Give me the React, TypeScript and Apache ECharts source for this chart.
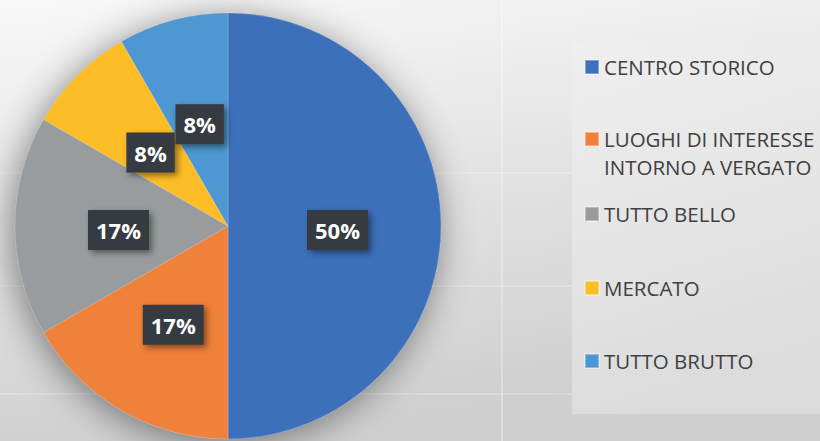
import React, { useEffect, useRef } from "react";
import * as echarts from "echarts";

const categories = [
  "CENTRO STORICO",
  "LUOGHI DI INTERESSE INTORNO A VERGATO",
  "TUTTO BELLO",
  "MERCATO",
  "TUTTO BRUTTO",
];
const legendLines = [
  "CENTRO STORICO",
  " \nLUOGHI DI INTERESSE\nINTORNO A VERGATO",
  "TUTTO BELLO",
  "MERCATO",
  "TUTTO BRUTTO",
];
const values = [6, 2, 2, 1, 1];
const colors = ["#3C70BB", "#F0813A", "#999C9E", "#FDBD26", "#4E97D2"];
const legendCenters = [68, 140, 215, 289, 362];

export default function App() {
  const ref = useRef<HTMLDivElement>(null);
  useEffect(() => {
    document.body.style.margin = "0";
    const chart = echarts.init(ref.current!, null, { renderer: "svg" });
    const legends = categories.map((name, i) => {
      const lines = legendLines[i].split("\n").length;
      const h = lines * 28;
      return {
        orient: "vertical",
        left: 584,
        top: legendCenters[i] - h / 2 - 1,
        padding: 0,
        itemWidth: 14,
        itemHeight: 14,
        icon: "rect",
        data: [name],
        selectedMode: false,
        formatter: () => legendLines[i],
        textStyle: {
          fontFamily: "Open Sans",
          fontSize: 20.5,
          color: "#404040",
          lineHeight: 28,
        },
      };
    });
    const hLines = [173, 286, 394].map((y) => ({
      type: "line",
      z: -9,
      shape: { x1: 0, y1: y, x2: 572, y2: y },
      style: { stroke: "rgba(255,255,255,0.45)", lineWidth: 1 },
    }));
    const vLines = [502].map((x) => ({
      type: "line",
      z: -9,
      shape: { x1: x, y1: 0, x2: x, y2: 441 },
      style: { stroke: "rgba(255,255,255,0.55)", lineWidth: 1 },
    }));
    chart.setOption({
      animation: false,
      color: colors,
      graphic: [
        {
          type: "rect",
          z: -10,
          shape: { x: 0, y: 0, width: 820, height: 441 },
          style: {
            fill: new echarts.graphic.LinearGradient(0, 0, 0.25, 1, [
              { offset: 0, color: "#F8F8F8" },
              { offset: 1, color: "#CFCFCF" },
            ]),
          },
        },
        ...hLines,
        ...vLines,
        {
          type: "rect",
          z: -8,
          shape: { x: 572, y: 43, width: 248, height: 371 },
          style: {
            fill: new echarts.graphic.LinearGradient(0, 0, 0.2, 1, [
              { offset: 0, color: "#EEEFEE" },
              { offset: 1, color: "#DCDCDC" },
            ]),
          },
        },
      ],
      legend: legends,
      series: [
        {
          type: "pie",
          silent: true,
          z: 1,
          center: [228, 226],
          radius: 213,
          label: { show: false },
          labelLine: { show: false },
          itemStyle: {
            color: "#888",
            shadowBlur: 36,
            shadowColor: "rgba(0,0,0,0.45)",
            shadowOffsetX: -3,
            shadowOffsetY: 5,
          },
          data: [{ value: 1, name: "__bg" }],
        },
        {
          type: "pie",
          z: 2,
          center: [228, 226],
          radius: 213,
          startAngle: 90,
          clockwise: true,
          percentPrecision: 0,
          itemStyle: { borderWidth: 0.6, borderColor: "rgba(255,255,255,0.35)" },
          label: {
            show: true,
            position: "inside",
            formatter: "{d}%",
            offset: [0, 4],
            fontFamily: "Open Sans",
            fontWeight: "bold",
            fontSize: 22,
            lineHeight: 22,
            color: "#FFFFFF",
            backgroundColor: "#353A3F",
            padding: [9, 8, 9, 8],
            shadowBlur: 6,
            shadowOffsetX: 3,
            shadowOffsetY: 3,
            shadowColor: "rgba(0,0,0,0.45)",
          },
          labelLine: { show: false },
          data: categories.map((name, i) => ({ name, value: values[i] })),
        },
      ],
    });
    return () => chart.dispose();
  }, []);
  return <div ref={ref} style={{ width: 820, height: 441 }} />;
}
